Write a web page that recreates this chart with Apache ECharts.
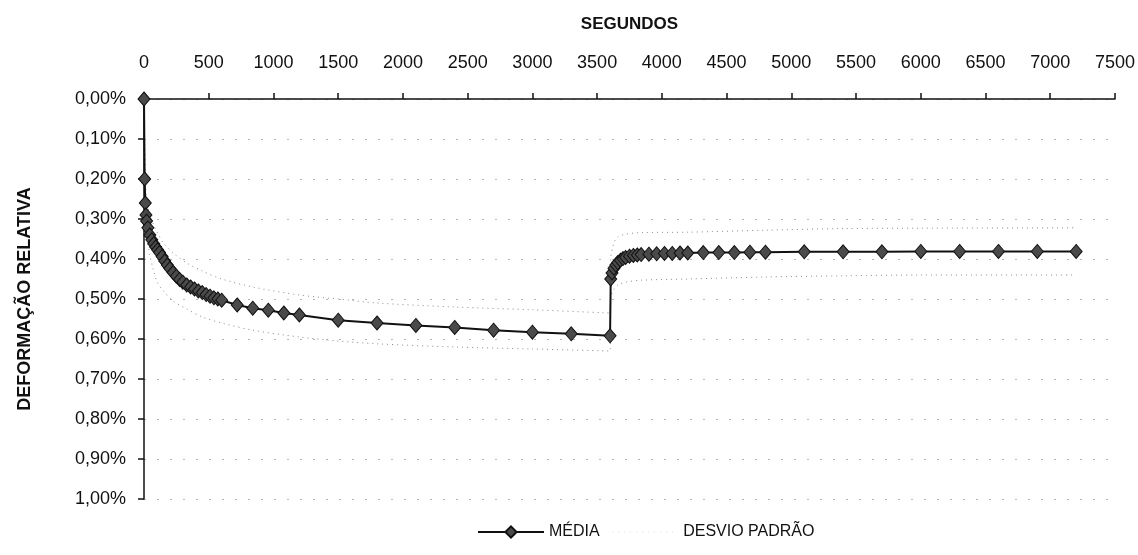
<!DOCTYPE html>
<html>
<head>
<meta charset="utf-8">
<script src="https://cdn.jsdelivr.net/npm/echarts@6/dist/echarts.min.js"></script>
<style>
  html, body { margin: 0; padding: 0; background: #fff; }
  #chart { width: 1138px; height: 555px; }
</style>
</head>
<body>
<div id="chart"></div>
<script>
// Tempo (s) e deformação relativa média (%)
const tempoMedia = [
  0, 5, 10, 15, 20, 30, 45, 60, 75, 90, 105, 120, 140, 160, 180, 200, 225, 250, 275, 300,
  330, 360, 390, 420, 450, 480, 510, 540, 570, 600, 720, 840, 960, 1080, 1200,
  1500, 1800, 2100, 2400, 2700, 3000, 3300, 3600,
  3605, 3615, 3630, 3645, 3660, 3680, 3700, 3720, 3750, 3780, 3810, 3840,
  3900, 3960, 4020, 4080, 4140, 4200, 4320, 4440, 4560, 4680, 4800,
  5100, 5400, 5700, 6000, 6300, 6600, 6900, 7200
];
const media = [
  0.000, 0.200, 0.260, 0.290, 0.305, 0.322, 0.340, 0.352, 0.362, 0.370, 0.377, 0.384, 0.394, 0.405, 0.415, 0.424, 0.434, 0.443, 0.451, 0.458,
  0.465, 0.470, 0.475, 0.480, 0.484, 0.489, 0.493, 0.497, 0.500, 0.503, 0.515, 0.523, 0.528, 0.535, 0.540,
  0.553, 0.560, 0.566, 0.571, 0.578, 0.583, 0.587, 0.592,
  0.450, 0.435, 0.423, 0.415, 0.409, 0.403, 0.399, 0.396, 0.393, 0.391, 0.390, 0.389,
  0.388, 0.387, 0.386, 0.386, 0.385, 0.385, 0.384, 0.384, 0.384, 0.383, 0.383,
  0.382, 0.382, 0.382, 0.381, 0.381, 0.381, 0.381, 0.381
];

// Faixa de desvio padrão (limites inferior e superior, %)
const tempoDesvio = [
  0, 10, 20, 45, 75, 105, 150, 225, 330, 450, 600, 840, 1200, 1500, 1800, 2400, 3000, 3600,
  3605, 3630, 3660, 3720, 3840, 4200, 4800, 5400, 6000, 7200
];
const desvioMenos = [
  0.000, 0.200, 0.250, 0.290, 0.315, 0.335, 0.360, 0.385, 0.410, 0.430, 0.450, 0.470, 0.490, 0.500, 0.510, 0.520, 0.527, 0.535,
  0.400, 0.360, 0.345, 0.338, 0.334, 0.333, 0.328, 0.324, 0.323, 0.322
];
const desvioMais = [
  0.000, 0.230, 0.330, 0.390, 0.430, 0.460, 0.480, 0.505, 0.525, 0.545, 0.560, 0.578, 0.595, 0.605, 0.612, 0.620, 0.625, 0.630,
  0.500, 0.475, 0.465, 0.458, 0.453, 0.450, 0.445, 0.442, 0.440, 0.440
];

const xTicks = [0, 500, 1000, 1500, 2000, 2500, 3000, 3500, 4000, 4500, 5000, 5500, 6000, 6500, 7000, 7500];
const yTicks = [0, 0.1, 0.2, 0.3, 0.4, 0.5, 0.6, 0.7, 0.8, 0.9, 1.0];

const pairs = (xs, ys) => xs.map((x, i) => [x, ys[i]]);
const FONT = '"Liberation Sans", Arial, sans-serif';

const chart = echarts.init(document.getElementById('chart'), null, { renderer: 'canvas' });

const desvioStyle = { color: '#8a8a8a', width: 1, type: [1, 4] };

chart.setOption({
  animation: false,
  backgroundColor: '#ffffff',
  grid: { left: 144, right: 22, top: 99, bottom: 56, containLabel: false },
  xAxis: {
    type: 'value',
    position: 'top',
    min: xTicks[0],
    max: xTicks[xTicks.length - 1],
    interval: xTicks[1] - xTicks[0],
    name: 'SEGUNDOS',
    nameLocation: 'middle',
    nameGap: 66,
    nameTextStyle: { fontFamily: FONT, fontWeight: 'bold', fontSize: 17, color: '#111' },
    axisLine: { show: true, onZero: false, lineStyle: { color: '#111', width: 1.5 } },
    axisTick: { show: true, inside: false, length: 6, lineStyle: { color: '#111', width: 1.5 } },
    axisLabel: { margin: 27, fontFamily: FONT, fontSize: 18, color: '#111', formatter: v => String(v) },
    splitLine: { show: false }
  },
  yAxis: {
    type: 'value',
    inverse: true,
    min: yTicks[0],
    max: yTicks[yTicks.length - 1],
    interval: yTicks[1] - yTicks[0],
    name: 'DEFORMAÇÃO RELATIVA',
    nameLocation: 'middle',
    nameRotate: 90,
    nameGap: 110,
    nameTextStyle: { fontFamily: FONT, fontWeight: 'bold', fontSize: 18, color: '#111' },
    axisLine: { show: true, onZero: false, lineStyle: { color: '#111', width: 1.5 } },
    axisTick: { show: true, inside: false, length: 6, lineStyle: { color: '#111', width: 1.5 } },
    axisLabel: {
      margin: 18, fontFamily: FONT, fontSize: 18, color: '#111',
      formatter: v => v.toFixed(2).replace('.', ',') + '%'
    },
    splitLine: { show: true, lineStyle: { color: '#b4b4b4', width: 1, type: [2, 11] } }
  },
  legend: {
    bottom: 10,
    left: 472,
    itemWidth: 66,
    itemHeight: 14,
    itemGap: 12,
    textStyle: { fontFamily: FONT, fontSize: 16, color: '#111' },
    data: [
      { name: 'MÉDIA' },
      { name: 'DESVIO PADRÃO', itemStyle: { opacity: 0 }, lineStyle: { color: '#dddddd', width: 1, type: [1, 5] } }
    ]
  },
  series: [
    {
      name: 'DESVIO PADRÃO',
      type: 'line',
      data: pairs(tempoDesvio, desvioMenos),
      smooth: 0.3,
      showSymbol: false,
      symbol: 'none',
      lineStyle: desvioStyle,
      z: 1
    },
    {
      name: 'DESVIO PADRÃO',
      type: 'line',
      data: pairs(tempoDesvio, desvioMais),
      smooth: 0.3,
      showSymbol: false,
      symbol: 'none',
      lineStyle: desvioStyle,
      z: 1
    },
    {
      name: 'MÉDIA',
      type: 'line',
      data: pairs(tempoMedia, media),
      symbol: 'diamond',
      symbolSize: [12, 14],
      showAllSymbol: true,
      lineStyle: { color: '#111', width: 2 },
      itemStyle: { color: '#4a4a4a', borderColor: '#111', borderWidth: 1 },
      z: 3
    }
  ]
});
</script>
</body>
</html>
